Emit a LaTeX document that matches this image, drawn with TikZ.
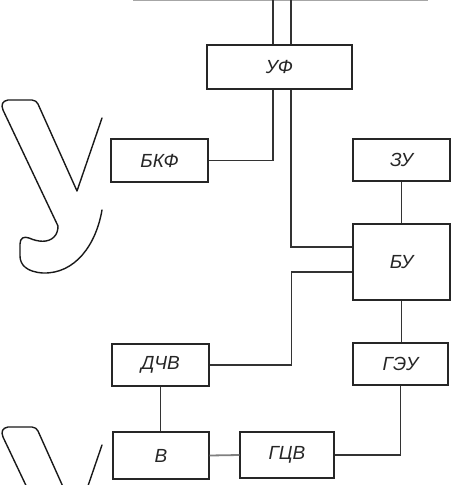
\documentclass[tikz,border=0pt]{standalone}
\usepackage{fontspec}
\setmainfont{Liberation Sans}
\begin{document}
\begin{tikzpicture}[x=1pt,y=-1pt,
  blk/.style={draw=black!85, line width=1.4pt, inner sep=0pt, text=black!85,
    font=\fontsize{19}{21}\selectfont\itshape},
  wire/.style={draw=black!80, line width=1.3pt},
  glyph/.style={draw=black!90, line width=1.4pt, line join=round, line cap=round}]
\useasboundingbox (0,0) rectangle (465,485);
% nodes
\node[blk, minimum width=145pt, minimum height=44pt] (UF)  at (279.5,67)  {УФ};
\node[blk, minimum width=97pt,  minimum height=43pt] (BKF) at (159.5,160.5) {БКФ};
\node[blk, minimum width=97pt,  minimum height=42pt] (ZU)  at (401.5,160) {ЗУ};
\node[blk, minimum width=97pt,  minimum height=76pt] (BU)  at (401.5,262) {БУ};
\node[blk, minimum width=97pt,  minimum height=42pt] (DCV) at (160.5,365) {ДЧВ};
\node[blk, minimum width=95pt,  minimum height=42pt] (GEU) at (400.5,364) {ГЭУ};
\node[blk, minimum width=96pt,  minimum height=47pt] (V)   at (161,455.5) {В};
\node[blk, minimum width=94pt,  minimum height=46pt] (GCV) at (287,455)   {ГЦВ};
% top line and feed
\coordinate (tl) at (133,0.6);
\coordinate (tr) at (428,0.6);
\coordinate (t1) at (273,0);
\coordinate (t2) at (291,0);
\draw[draw=black!35, line width=0.8pt] (tl) -- (tr);
\draw[wire] (t1) -- (t1 |- UF.north);
\draw[wire] (t2) -- (t2 |- UF.north);
% connectors
\draw[wire] ([xshift=-6.5pt]UF.south) |- (BKF.east);
\draw[wire] ([xshift=11.5pt]UF.south) |- ([yshift=15pt]BU.west);
\draw[wire] (ZU.south) -- (BU.north);
\draw[wire] ([yshift=-10pt]BU.west) -- ++(-61,0) |- (DCV.east);
\draw[wire] (DCV.south) -- (DCV.south |- V.north);
\draw[draw=black!50, line width=1.8pt] (V.east) -- (GCV.west);
\draw[wire] (GCV.east) -| (GEU.south);
\draw[wire] (BU.south) -- (BU.south |- GEU.north);
% decorative glyph outlines
\begin{scope}
\clip (0,0) rectangle (465,485);
\foreach \dy in {0,327}{
\draw[glyph, yshift=-\dy pt] (102,210) .. controls (96,245) and (75,274) .. (43,273)
  .. controls (27,272) and (20,265) .. (20,256) -- (20,244)
  .. controls (20,238) and (24,236) .. (29,238)
  .. controls (38,242) and (48,243) .. (54,237)
  .. controls (57,234) and (58,230) .. (58,226)
  -- (3,110) .. controls (1,105) and (2,101) .. (8,100) -- (32,100)
  .. controls (35,100) and (37,102) .. (38,104)
  -- (77,191) -- (102,118);
}
\end{scope}
\end{tikzpicture}
\end{document}
